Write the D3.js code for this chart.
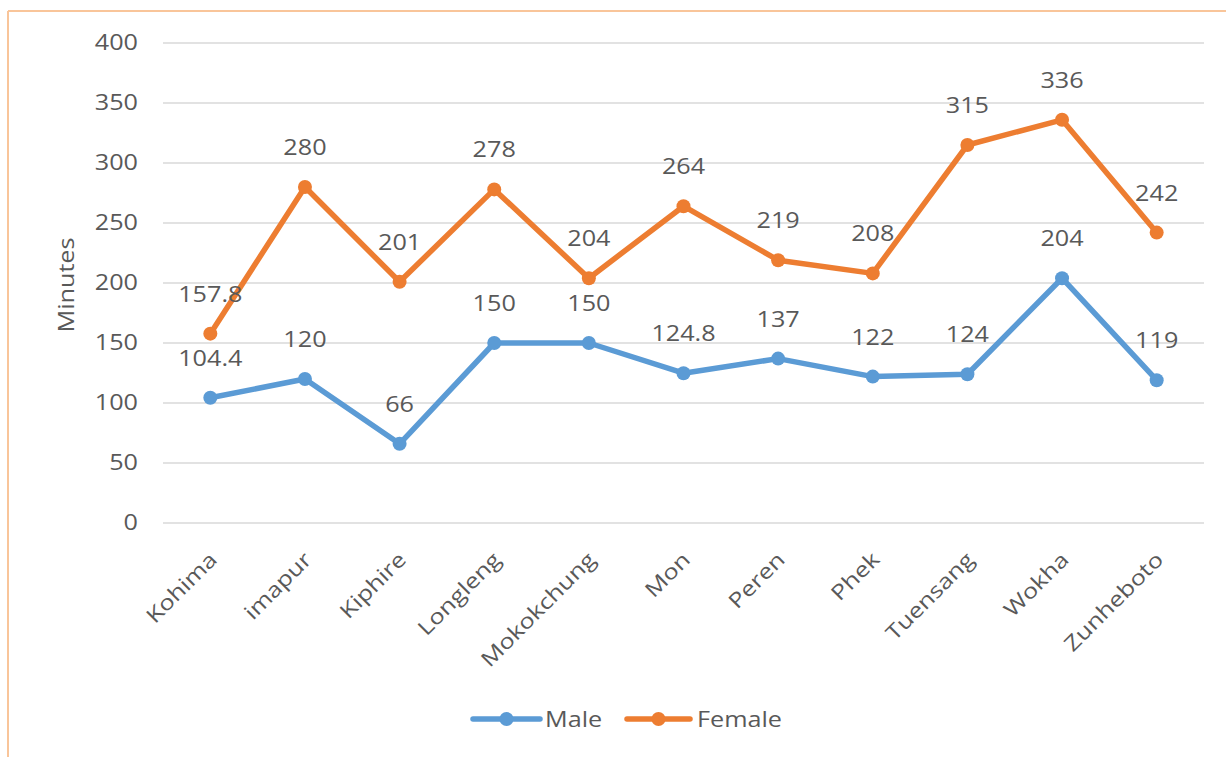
<!DOCTYPE html>
<html>
<head>
<meta charset="utf-8">
<script src="https://cdn.jsdelivr.net/npm/d3@7"></script>
<style>
  html, body { margin: 0; padding: 0; background: #fff; }
  svg { display: block; font-family: "Open Sans", Lato, sans-serif; }
</style>
</head>
<body>
<svg id="chart" width="1226" height="757"></svg>
<script>
// Districts along the x axis
const districts = ["Kohima", "imapur", "Kiphire", "Longleng", "Mokokchung", "Mon", "Peren", "Phek", "Tuensang", "Wokha", "Zunheboto"];
// Minutes per series
const maleValues = [104.4, 120, 66, 150, 150, 124.8, 137, 122, 124, 204, 119];
const femaleValues = [157.8, 280, 201, 278, 204, 264, 219, 208, 315, 336, 242];
// Y axis ticks
const yTicks = [0, 50, 100, 150, 200, 250, 300, 350, 400];

const series = [
  { name: "Male", values: maleValues, color: "#5b9bd5" },
  { name: "Female", values: femaleValues, color: "#ed7d31" }
];

const svg = d3.select("#chart");
const textColor = "#595959";
const fontFamily = "'Open Sans', Lato, sans-serif";
const fs = 21;
const stretch = "scale(1.2,1)"; // wide text along the reading direction
const lineWidth = 5.5;
const markerR = 7;

// Outer frame (top and left edges)
svg.append("line").attr("x1", 8).attr("x2", 1226).attr("y1", 11).attr("y2", 11)
  .attr("stroke", "#f9c59a").attr("stroke-width", 2);
svg.append("line").attr("x1", 8).attr("x2", 8).attr("y1", 11).attr("y2", 757)
  .attr("stroke", "#f9c59a").attr("stroke-width", 2);

const plot = { left: 163, right: 1204, top: 43, bottom: 523 };

const x = d3.scaleBand().domain(districts).range([plot.left, plot.right]);
const y = d3.scaleLinear().domain([0, 400]).range([plot.bottom, plot.top]);
const cx = d => x(d) + x.bandwidth() / 2;

// Horizontal grid lines
svg.append("g").selectAll("line").data(yTicks).join("line")
  .attr("x1", plot.left).attr("x2", plot.right)
  .attr("y1", d => y(d)).attr("y2", d => y(d))
  .attr("stroke", "#d9d9d9").attr("stroke-width", 1.5);

// Y axis tick labels
const yAxis = svg.append("g")
  .attr("transform", `translate(${plot.left - 25},0)`)
  .call(d3.axisLeft(y).tickValues(yTicks).tickSize(0).tickPadding(0));
yAxis.select(".domain").remove();
yAxis.selectAll("text").attr("fill", textColor).attr("font-size", fs)
  .attr("font-family", fontFamily).attr("x", 0).attr("transform", stretch);

// Y axis title
svg.append("text")
  .attr("transform", `translate(74,${(plot.top + plot.bottom) / 2 + 2}) rotate(-90) ${stretch}`)
  .attr("text-anchor", "middle").attr("fill", textColor).attr("font-size", fs)
  .text("Minutes");

// X axis category labels, rotated
const xAxis = svg.append("g")
  .attr("transform", `translate(0,${plot.bottom})`)
  .call(d3.axisBottom(x).tickSize(0).tickPadding(0));
xAxis.select(".domain").remove();
xAxis.selectAll("text")
  .attr("fill", textColor).attr("font-size", fs)
  .attr("font-family", fontFamily)
  .attr("text-anchor", "end")
  .attr("y", 0).attr("dy", 0)
  .attr("transform", `translate(8,38) rotate(-45) ${stretch}`);

// Lines, markers and value labels
const line = d3.line().x((v, i) => cx(districts[i])).y(v => y(v));
series.forEach(s => {
  const g = svg.append("g");
  g.append("path").datum(s.values)
    .attr("d", line).attr("fill", "none")
    .attr("stroke", s.color).attr("stroke-width", lineWidth)
    .attr("stroke-linejoin", "round").attr("stroke-linecap", "round");
  g.selectAll("circle").data(s.values).join("circle")
    .attr("cx", (v, i) => cx(districts[i])).attr("cy", v => y(v))
    .attr("r", markerR).attr("fill", s.color);
  g.selectAll("text").data(s.values).join("text")
    .attr("transform", (v, i) => `translate(${cx(districts[i])},${y(v) - 32}) ${stretch}`)
    .attr("text-anchor", "middle").attr("fill", textColor).attr("font-size", fs)
    .text(v => v);
});

// Legend
const legendItems = [
  { s: series[0], x0: 473, x1: 540, tx: 545 },
  { s: series[1], x0: 627, x1: 690, tx: 697 }
];
const ly = 719;
legendItems.forEach(it => {
  const g = svg.append("g");
  g.append("line").attr("x1", it.x0).attr("x2", it.x1).attr("y1", ly).attr("y2", ly)
    .attr("stroke", it.s.color).attr("stroke-width", lineWidth).attr("stroke-linecap", "round");
  g.append("circle").attr("cx", (it.x0 + it.x1) / 2).attr("cy", ly).attr("r", markerR).attr("fill", it.s.color);
  g.append("text").attr("transform", `translate(${it.tx},${ly + 8}) ${stretch}`)
    .attr("fill", textColor).attr("font-size", fs)
    .text(it.s.name);
});
</script>
</body>
</html>
